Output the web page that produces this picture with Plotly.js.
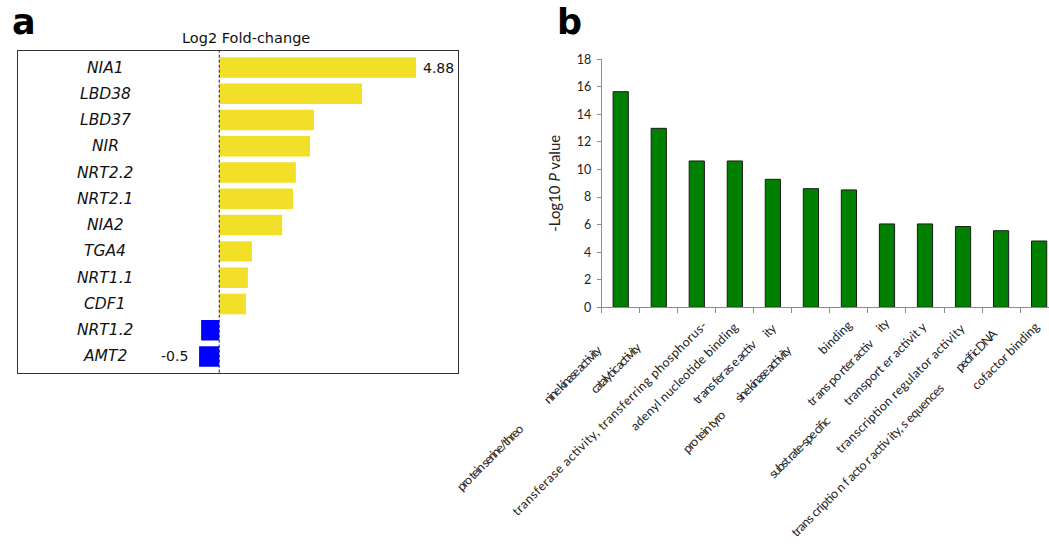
<!DOCTYPE html>
<html>
<head>
<meta charset="utf-8">
<script src="https://cdn.plot.ly/plotly-3.0.1.min.js"></script>
<style>
  html, body { margin: 0; padding: 0; background: #fff; }
  #chart { width: 1049px; height: 544px; }
</style>
</head>
<body>
<div id="chart"></div>
<script>
// ---------------- DATA ----------------
// Panel a: genes and log2 fold-change
const genes = ['NIA1', 'LBD38', 'LBD37', 'NIR', 'NRT2.2', 'NRT2.1', 'NIA2', 'TGA4', 'NRT1.1', 'CDF1', 'NRT1.2', 'AMT2'];
const log2FC = [4.88, 3.54, 2.35, 2.25, 1.90, 1.83, 1.56, 0.81, 0.71, 0.66, -0.45, -0.50];

// Panel b: GO terms and -log10 P values
const goTerms = [
  'protein serine/threonine kinase activity',
  'catalytic activity',
  'transferase activity, transferring phosphorus-containing groups',
  'adenyl nucleotide binding',
  'transferase activity',
  'protein tyrosine kinase activity',
  'binding',
  'transporter activity',
  'substrate-specific transporter activity',
  'transcription regulator activity',
  'sequence-specific DNA binding transcription factor activity',
  'cofactor binding'
];
const negLog10P = [15.65, 12.99, 10.62, 10.62, 9.29, 8.61, 8.52, 6.05, 6.05, 5.86, 5.56, 4.81];

// Tick label text pieces as they appear in the figure (category index, text)
const goLabelCat = [0, 0, 1, 2, 3, 4, 4, 5, 5, 6, 7, 7, 8, 8, 9, 10, 10, 11];
const goLabelText = [
  'nine kinase activity', 'pro tein serine/threo',
  'catalytic activity',
  'transferase activity, transferring phosphorus-',
  'adenyl nucleotide binding',
  'tr ans fer as e activ', 'ity',
  'sine kinase activity', 'pro tein tyro',
  'binding',
  'tr ans po rter activ', 'ity',
  'transport er activit y', 'subst rate-spe cific',
  'transcription regulator activity',
  'trans criptio n f acto r activ ity, s equences', 'pecif ic DNA',
  'cofactor binding'
];
const yTicksB = [0, 2, 4, 6, 8, 10, 12, 14, 16, 18];

// ---------------- STYLE / PLACEMENT ----------------
const W = 1049, H = 544;
// per-piece placement: [x offset from category centre (px), centre y (px), text length (px)]
const piecePlace = [
  [-48.2, 374.2, 76], [-130.7, 457.5, 88],
  [-42.4, 367.9, 65],
  [-88.0, 418.0, 269],
  [-50.6, 376.7, 146],
  [-47.8, 371.7, 84], [-3.6, 330.0, 13],
  [-47.6, 373.3, 74], [-106.7, 431.7, 54],
  [-13.9, 337.5, 41],
  [-46.9, 372.5, 88], [-4.4, 325.8, 13],
  [-40.0, 363.3, 111], [-125.8, 447.5, 81],
  [-63.0, 388.3, 176],
  [-134.3, 460.0, 210], [-25.2, 350.0, 53],
  [-33.2, 355.8, 89]
];
const py = p => 1 - p / H;
const px = p => p / W;

const fontA = 'DejaVu Sans, Verdana, sans-serif';
const fontB = 'Lato, Carlito, Calibri, sans-serif';

// ---------------- TRACES ----------------
const traceA = {
  type: 'bar',
  orientation: 'h',
  x: log2FC,
  y: genes,
  xaxis: 'x',
  yaxis: 'y',
  width: 0.78,
  marker: { color: log2FC.map(v => v >= 0 ? '#F2DF27' : '#0000FF'), line: { width: 0 } },
  hoverinfo: 'x+y',
  showlegend: false
};

const traceB = {
  type: 'bar',
  x: goTerms,
  y: negLog10P,
  xaxis: 'x2',
  yaxis: 'y2',
  width: 0.4,
  marker: { color: '#008000', line: { color: '#1a1a1a', width: 1 } },
  hoverinfo: 'x+y',
  showlegend: false
};

// ---------------- ANNOTATIONS ----------------
const annotations = [];

// panel letters
annotations.push({ text: '<b>a</b>', xref: 'paper', yref: 'paper', x: px(10), y: py(22),
  xanchor: 'left', yanchor: 'middle', showarrow: false,
  font: { family: fontA, size: 35, color: '#000' } });
annotations.push({ text: '<b>b</b>', xref: 'paper', yref: 'paper', x: px(555), y: py(22),
  xanchor: 'left', yanchor: 'middle', showarrow: false,
  font: { family: fontA, size: 35, color: '#000' } });

// panel a title
annotations.push({ text: 'Log2 Fold-change', xref: 'paper', yref: 'paper', x: px(246), y: py(37.7),
  xanchor: 'center', yanchor: 'middle', showarrow: false,
  font: { family: fontA, size: 14.5, color: '#111' } });

// panel a gene names (inside the box)
genes.forEach(g => {
  annotations.push({ text: '<i>' + g + '</i>', xref: 'paper', yref: 'y', x: px(105), y: g,
    xanchor: 'center', yanchor: 'middle', showarrow: false,
    font: { family: fontA, size: 15.5, color: '#111', style: 'italic' } });
});

// value labels for the largest and smallest change
const iMax = log2FC.indexOf(Math.max(...log2FC));
const iMin = log2FC.indexOf(Math.min(...log2FC));
annotations.push({ text: String(log2FC[iMax]), xref: 'x', yref: 'y', x: log2FC[iMax], y: genes[iMax],
  xanchor: 'left', yanchor: 'middle', xshift: 5, showarrow: false,
  font: { family: fontA, size: 14, color: '#111' } });
annotations.push({ text: String(log2FC[iMin]), xref: 'x', yref: 'y', x: log2FC[iMin], y: genes[iMin],
  xanchor: 'right', yanchor: 'middle', xshift: -9, showarrow: false,
  font: { family: fontA, size: 14, color: '#111' } });

// panel b category labels (rotated pieces)
const labelStart = annotations.length;
goLabelText.forEach((t, k) => {
  const pl = piecePlace[k];
  annotations.push({ text: t, xref: 'x2', yref: 'paper', x: goTerms[goLabelCat[k]], y: py(pl[1]),
    xshift: pl[0], xanchor: 'center', yanchor: 'middle', textangle: -45, showarrow: false,
    font: { family: fontB, size: 12.5, color: '#222' } });
});

// ---------------- LAYOUT ----------------
const layout = {
  width: W, height: H,
  margin: { l: 0, r: 0, t: 0, b: 0, pad: 0 },
  paper_bgcolor: '#fff', plot_bgcolor: 'rgba(0,0,0,0)',
  showlegend: false,
  font: { family: fontB, color: '#222' },
  xaxis: {
    domain: [px(18), px(458)], anchor: 'y',
    range: [-4.99, 5.92], fixedrange: true,
    showgrid: false, zeroline: false, showticklabels: false, ticks: '',
    showline: true, mirror: true, linecolor: '#333', linewidth: 1.2
  },
  yaxis: {
    domain: [py(372.7), py(51)], anchor: 'x',
    type: 'category', categoryorder: 'array', categoryarray: genes,
    range: [11.62, -0.63], fixedrange: true,
    showgrid: false, zeroline: false, showticklabels: false, ticks: '',
    showline: true, mirror: true, linecolor: '#333', linewidth: 1.2
  },
  xaxis2: {
    domain: [px(601.7), 1], anchor: 'y2',
    type: 'category', categoryorder: 'array', categoryarray: goTerms,
    range: [-0.5, 11.26], fixedrange: true,
    showgrid: false, zeroline: false, showticklabels: false,
    ticks: 'outside', tickson: 'boundaries', ticklen: 5, tickcolor: '#8c8c8c', tickwidth: 1,
    showline: true, linecolor: '#8c8c8c', linewidth: 1
  },
  yaxis2: {
    domain: [py(307.3), py(59.3)], anchor: 'x2',
    range: [0, 18], fixedrange: true,
    tickmode: 'array', tickvals: yTicksB, ticktext: yTicksB.map(String),
    showgrid: false, zeroline: false,
    ticks: 'outside', ticklen: 4, tickcolor: '#8c8c8c', tickwidth: 1,
    ticklabelstandoff: 3,
    showline: true, linecolor: '#8c8c8c', linewidth: 1,
    tickfont: { family: fontB, size: 12.5, color: '#222' },
    title: { text: '-Log10 <i>P</i> value', standoff: 12,
             font: { family: fontB, size: 15, color: '#222' } },
    automargin: false
  },
  shapes: [{
    type: 'line', xref: 'x', yref: 'paper', x0: 0, x1: 0, y0: py(372.7), y1: py(51),
    line: { color: '#222', width: 1, dash: '3px,2px' }
  }],
  annotations: annotations
};

Plotly.newPlot('chart', [traceA, traceB], layout, { displayModeBar: false, staticPlot: true }).then(gd => {
  // squeeze / stretch each rotated label piece to the length it has in the figure
  goLabelText.forEach((t, k) => {
    const g = gd.querySelector('.annotation[data-index="' + (labelStart + k) + '"]');
    if (!g) return;
    const txt = g.querySelector('text.annotation-text');
    if (!txt) return;
    txt.setAttribute('textLength', piecePlace[k][2]);
    txt.setAttribute('lengthAdjust', 'spacing');
  });
});
</script>
</body>
</html>
